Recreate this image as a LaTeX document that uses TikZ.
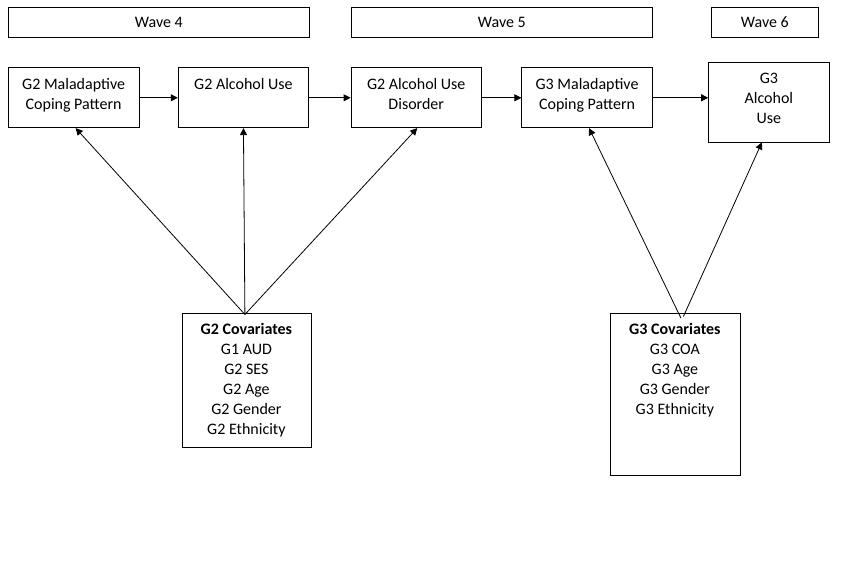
\documentclass[tikz,border=0pt]{standalone}
\usepackage{fontspec}
\setmainfont{Carlito}
\usetikzlibrary{arrows.meta,positioning}

\begin{document}
\begin{tikzpicture}[
    x=1pt,
    y=-1pt,
    font=\fontsize{16}{20}\selectfont,
    wave/.style={
        rectangle,
        draw,
        line width=0.8pt,
        inner sep=0pt,
        minimum height=30pt,
        anchor=north west
    },
    block/.style={
        rectangle,
        draw,
        line width=0.8pt,
        inner sep=0pt,
        align=center,
        anchor=north west
    },
    line/.style={draw, line width=0.8pt, -{Triangle[length=7pt,width=7pt]}}
]
\useasboundingbox (0,0) rectangle (843,588);

% Wave headers
\node [wave, minimum width=301pt] (wave4) at (8,7) {Wave 4};
\node [wave, minimum width=301pt] (wave5) at (351,7) {Wave 5};
\node [wave, minimum width=107pt] (wave6) at (711,7) {Wave 6};

% Main row (text hangs from the top of each box)
\node [block, minimum width=130.5pt, text height=41.5pt, text depth=18.3pt] (mal2) at (8,67.5) {G2 Maladaptive\\Coping Pattern};
\node [block, minimum width=130.5pt, text height=21.5pt, text depth=38.3pt, right=38.5pt of mal2] (alc2) {G2 Alcohol Use};
\node [block, minimum width=130.5pt, text height=41.5pt, text depth=18.3pt, right=41.5pt of alc2] (aud2) {G2 Alcohol Use\\Disorder};
\node [block, minimum width=130.5pt, text height=41.5pt, text depth=18.3pt, right=39.5pt of aud2] (mal3) {G3 Maladaptive\\Coping Pattern};
\node [block, minimum width=120.5pt, text height=61.5pt, text depth=18.5pt, right=55.5pt of mal3, yshift=-4.2pt] (alc3) {G3\\Alcohol\\Use};

% Covariates
\node [block, minimum width=129pt, text height=121.5pt, text depth=12.7pt] (cov2) at (181.5,312.5) {\textbf{G2 Covariates}\\G1 AUD\\G2 SES\\G2 Age\\G2 Gender\\G2 Ethnicity};
\node [block, minimum width=130pt, text height=101.5pt, text depth=61pt] (cov3) at (609.5,312.5) {\textbf{G3 Covariates}\\G3 COA\\G3 Age\\G3 Gender\\G3 Ethnicity};

\coordinate (src2) at ([xshift=-1.5pt,yshift=-2pt]cov2.north);
\coordinate (src3a) at ([xshift=6pt,yshift=-5.5pt]cov3.north);
\coordinate (src3b) at ([xshift=8.5pt,yshift=-4pt]cov3.north);

% Paths along the row
\draw [line] (mal2) -- (alc2);
\draw [line] (alc2) -- (aud2);
\draw [line] (aud2) -- (mal3);
\draw [line] (mal3) -- (mal3 -| alc3.west);

% Covariate paths
\draw [line] (src2) -- ([xshift=2pt]mal2.south);
\draw [line] (src2) -- (alc2.south);
\draw [line] (src2) -- ([xshift=1pt]aud2.south);
\draw [line] (src3a) -- ([xshift=2pt]mal3.south);
\draw [line] (src3b) -- ([xshift=-7pt]alc3.south);

\end{tikzpicture}
\end{document}
